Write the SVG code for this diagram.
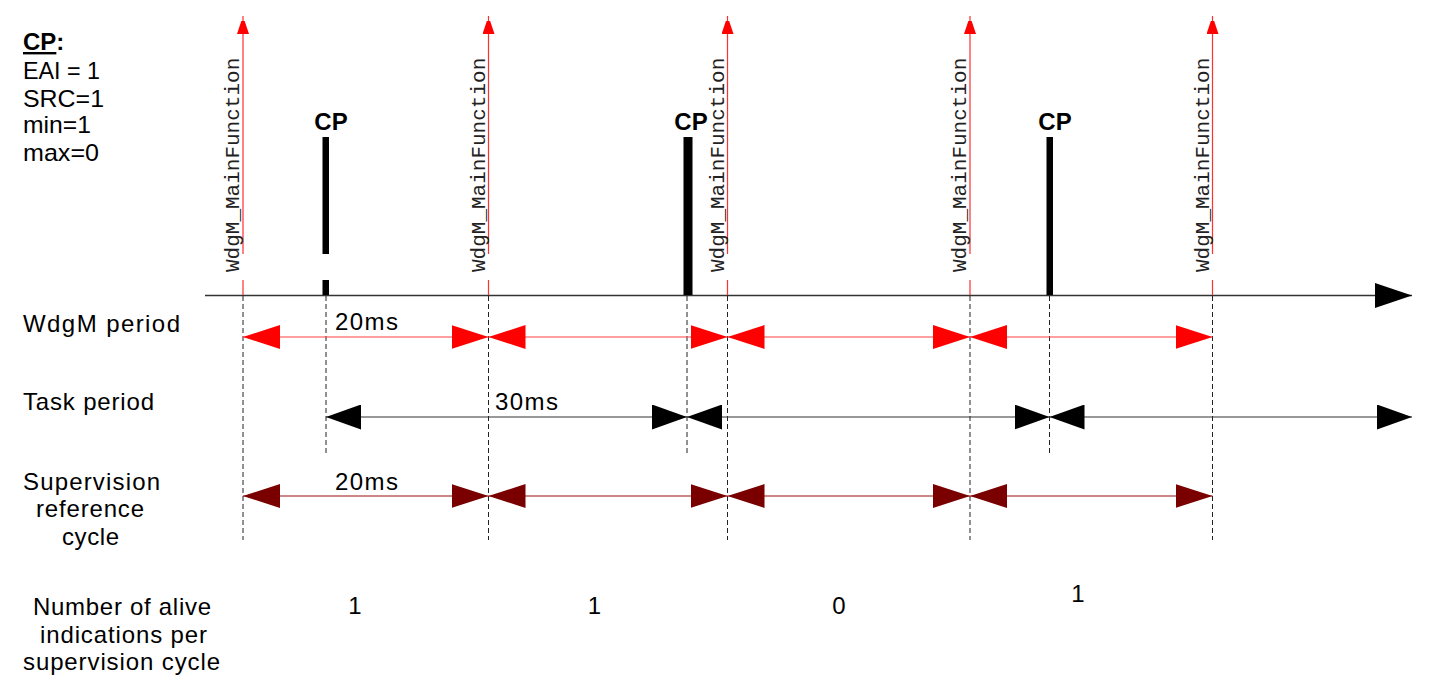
<svg xmlns="http://www.w3.org/2000/svg" width="1439" height="691" viewBox="0 0 1439 691">
<style>
.t{font-family:"Liberation Sans",Arial,sans-serif;font-size:24px;fill:#000}
.b{font-family:"Liberation Sans",Arial,sans-serif;font-size:24px;font-weight:bold;fill:#000}
.m{font-family:"Liberation Mono","Courier New",monospace;font-size:21px;fill:#222}
.dash{stroke:#222;stroke-width:1;stroke-dasharray:5,3;fill:none}
.red{stroke:#ff3030;stroke-width:1.2;fill:none}
.wd{stroke:#ff4040;stroke-width:1.2;fill:none;marker-start:url(#hr);marker-end:url(#hr)}
.tk{stroke:#333;stroke-width:1.2;fill:none;marker-start:url(#hk);marker-end:url(#hk)}
.sv{stroke:#9a1010;stroke-width:1.2;fill:none;marker-start:url(#hm);marker-end:url(#hm)}
.bar{fill:#000}
</style>
<defs>
<marker id="hr" markerUnits="userSpaceOnUse" markerWidth="38" markerHeight="24" refX="37" refY="12" orient="auto-start-reverse"><path d="M0,0 L37,12 L0,24 z" fill="#ff0000"/></marker>
<marker id="hk" markerUnits="userSpaceOnUse" markerWidth="36" markerHeight="25" refX="35" refY="12.5" orient="auto-start-reverse"><path d="M0,0 L35,12.5 L0,25 z" fill="#000"/></marker>
<marker id="hm" markerUnits="userSpaceOnUse" markerWidth="38" markerHeight="24" refX="37" refY="12" orient="auto-start-reverse"><path d="M0,0 L37,12 L0,24 z" fill="#7a0000"/></marker>
<marker id="up" markerUnits="userSpaceOnUse" markerWidth="13" markerHeight="18" refX="18" refY="6" orient="auto"><path d="M0,0 L18,6 L0,12 z" fill="#ff0000"/></marker>
<marker id="ax" markerUnits="userSpaceOnUse" markerWidth="38" markerHeight="25" refX="37" refY="12.5" orient="auto"><path d="M0,0 L37,12.5 L0,25 z" fill="#000"/></marker>
</defs>

<g id="legend">
<text class="t" x="23" y="50" font-weight="bold"><tspan text-decoration="underline">CP</tspan>:</text>
<text class="t" x="23" y="79" textLength="77" lengthAdjust="spacingAndGlyphs">EAI = 1</text>
<text class="t" x="23" y="107" textLength="81" lengthAdjust="spacingAndGlyphs">SRC=1</text>
<text class="t" x="23" y="133" textLength="68" lengthAdjust="spacingAndGlyphs">min=1</text>
<text class="t" x="23" y="161" textLength="76" lengthAdjust="spacingAndGlyphs">max=0</text>
</g>

<g id="row-labels">
<text class="t" x="23" y="332" textLength="157" lengthAdjust="spacing">WdgM period</text>
<text class="t" x="23" y="410" textLength="131" lengthAdjust="spacing">Task period</text>
<text class="t" x="23" y="489.5" textLength="137" lengthAdjust="spacing">Supervision</text>
<text class="t" x="36" y="517" textLength="108" lengthAdjust="spacing">reference</text>
<text class="t" x="62" y="544.5" textLength="57" lengthAdjust="spacing">cycle</text>
<text class="t" x="33" y="615" textLength="178" lengthAdjust="spacing">Number of alive</text>
<text class="t" x="40" y="643" textLength="167" lengthAdjust="spacing">indications per</text>
<text class="t" x="23" y="670" textLength="197" lengthAdjust="spacing">supervision cycle</text>
</g>

<g id="axis">
<line x1="205" y1="295.5" x2="1412" y2="295.5" stroke="#333" stroke-width="1.3" marker-end="url(#ax)"/>
</g>

<g id="mainfunction-calls">
<g id="mf1">
<line class="red" x1="243" y1="254" x2="243" y2="16" marker-end="url(#up)"/>
<line class="red" x1="243" y1="280" x2="243" y2="295"/>
<text class="m" transform="translate(239,272) rotate(-90)">WdgM_MainFunction</text>
</g>
<g id="mf2">
<line class="red" x1="488.5" y1="254" x2="488.5" y2="16" marker-end="url(#up)"/>
<line class="red" x1="488.5" y1="280" x2="488.5" y2="295"/>
<text class="m" transform="translate(484.5,272) rotate(-90)">WdgM_MainFunction</text>
</g>
<g id="mf3">
<line class="red" x1="727.5" y1="254" x2="727.5" y2="16" marker-end="url(#up)"/>
<line class="red" x1="727.5" y1="280" x2="727.5" y2="295"/>
<text class="m" transform="translate(723.5,272) rotate(-90)">WdgM_MainFunction</text>
</g>
<g id="mf4">
<line class="red" x1="970" y1="254" x2="970" y2="16" marker-end="url(#up)"/>
<line class="red" x1="970" y1="280" x2="970" y2="295"/>
<text class="m" transform="translate(966,272) rotate(-90)">WdgM_MainFunction</text>
</g>
<g id="mf5">
<line class="red" x1="1212.5" y1="254" x2="1212.5" y2="16" marker-end="url(#up)"/>
<line class="red" x1="1212.5" y1="280" x2="1212.5" y2="295"/>
<text class="m" transform="translate(1208.5,272) rotate(-90)">WdgM_MainFunction</text>
</g>
</g>

<g id="checkpoints">
<g id="cp1">
<rect class="bar" x="322.5" y="137" width="6.5" height="117"/>
<rect class="bar" x="322.5" y="280" width="6.5" height="15"/>
<text class="b" x="331" y="130" text-anchor="middle">CP</text>
</g>
<g id="cp2">
<rect class="bar" x="683.5" y="137" width="9" height="158"/>
<text class="b" x="691" y="130" text-anchor="middle">CP</text>
</g>
<g id="cp3">
<rect class="bar" x="1046.5" y="137" width="6.5" height="158"/>
<text class="b" x="1055" y="130" text-anchor="middle">CP</text>
</g>
</g>

<g id="connectors">
<line class="dash" x1="243" y1="296" x2="243" y2="540"/>
<line class="dash" x1="326" y1="296" x2="326" y2="455"/>
<line class="dash" x1="488.5" y1="296" x2="488.5" y2="540"/>
<line class="dash" x1="687" y1="296" x2="687" y2="455"/>
<line class="dash" x1="727.5" y1="296" x2="727.5" y2="540"/>
<line class="dash" x1="970" y1="296" x2="970" y2="540"/>
<line class="dash" x1="1049.5" y1="296" x2="1049.5" y2="455"/>
<line class="dash" x1="1212.5" y1="296" x2="1212.5" y2="540"/>

<line class="wd" x1="243" y1="337" x2="488.5" y2="337"/>
<line class="wd" x1="488.5" y1="337" x2="727.5" y2="337"/>
<line class="wd" x1="727.5" y1="337" x2="970" y2="337"/>
<line class="wd" x1="970" y1="337" x2="1212.5" y2="337"/>

<line class="tk" x1="326" y1="417" x2="687" y2="417"/>
<line class="tk" x1="687" y1="417" x2="1049.5" y2="417"/>
<line class="tk" x1="1049.5" y1="417" x2="1412" y2="417"/>

<line class="sv" x1="243" y1="496" x2="488.5" y2="496"/>
<line class="sv" x1="488.5" y1="496" x2="727.5" y2="496"/>
<line class="sv" x1="727.5" y1="496" x2="970" y2="496"/>
<line class="sv" x1="970" y1="496" x2="1212.5" y2="496"/>
</g>

<g id="period-labels">
<text class="t" x="335" y="330" textLength="63" lengthAdjust="spacing">20ms</text>
<text class="t" x="495" y="409.5" textLength="63" lengthAdjust="spacing">30ms</text>
<text class="t" x="335" y="489.5" textLength="63" lengthAdjust="spacing">20ms</text>
</g>

<g id="counts">
<text class="t" x="355" y="614" text-anchor="middle">1</text>
<text class="t" x="594.5" y="614" text-anchor="middle">1</text>
<text class="t" x="839" y="614" text-anchor="middle">0</text>
<text class="t" x="1078" y="602" text-anchor="middle">1</text>
</g>
</svg>
